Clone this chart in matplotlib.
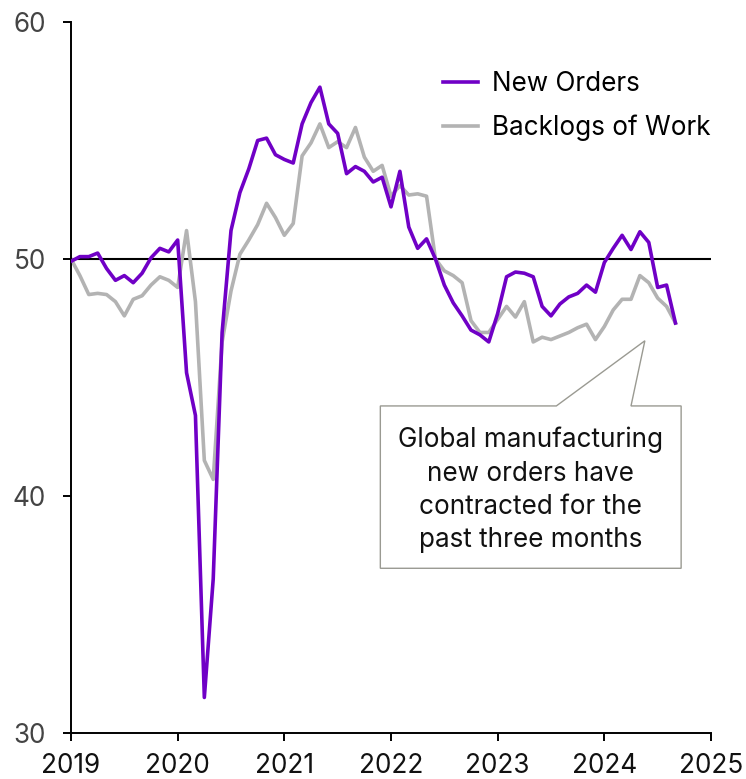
import matplotlib
matplotlib.use('Agg')
import matplotlib.pyplot as plt
import numpy as np
from matplotlib.patches import Polygon

plt.rcParams['font.family'] = ['Inter', 'DejaVu Sans']

# monthly PMI readings, Jan 2019 - Sep 2024
start_year = 2019
new_orders = [
    49.9, 50.1, 50.1, 50.25, 49.6, 49.1, 49.3, 49.0, 49.4, 50.05, 50.45, 50.3,
    50.8, 45.2, 43.4, 31.5, 36.5, 46.9, 51.2, 52.8, 53.8, 55.0, 55.1, 54.4,
    54.2, 54.05, 55.7, 56.6, 57.25, 55.7, 55.3, 53.6, 53.9, 53.7, 53.25, 53.45,
    52.2, 53.7, 51.35, 50.45, 50.85, 50.0, 48.9, 48.15, 47.6, 47.0, 46.8, 46.5,
    47.7, 49.25, 49.45, 49.4, 49.25, 48.0, 47.6, 48.1, 48.4, 48.55, 48.9, 48.6,
    49.85, 50.45, 51.0, 50.4, 51.15, 50.7, 48.8, 48.9, 47.3,
]
backlogs = [
    50.0, 49.3, 48.5, 48.55, 48.5, 48.2, 47.6, 48.3, 48.45, 48.9, 49.25, 49.1,
    48.8, 51.2, 48.2, 41.5, 40.7, 46.5, 48.65, 50.2, 50.8, 51.45, 52.35, 51.75,
    51.0, 51.5, 54.35, 54.9, 55.7, 54.7, 54.95, 54.7, 55.55, 54.3, 53.7, 53.95,
    52.65, 53.1, 52.7, 52.75, 52.65, 50.0, 49.5, 49.3, 49.0, 47.4, 46.9, 46.9,
    47.45, 48.0, 47.55, 48.2, 46.5, 46.7, 46.6, 46.75, 46.9, 47.1, 47.25, 46.6,
    47.15, 47.85, 48.3, 48.3, 49.3, 49.0, 48.35, 48.0, 47.3,
]
year_ticks = [2019, 2020, 2021, 2022, 2023, 2024, 2025]
y_ticks = [30, 40, 50, 60]
note = 'Global manufacturing\nnew orders have\ncontracted for the\npast three months'

fs = 18.8
x = start_year + np.arange(len(new_orders)) / 12

fig = plt.figure(figsize=(7.46, 7.79), dpi=100)
ax = fig.add_axes([71 / 746, 46 / 779, 640 / 746, 711 / 779])

ax.axhline(50, color='black', lw=1.5, zorder=1)
l2, = ax.plot(x, backlogs, color='#b3b3b3', lw=2.6, label='Backlogs of Work', zorder=2)
l1, = ax.plot(x, new_orders, color='#7000c6', lw=2.6, label='New Orders', zorder=3)

ax.set_xlim(2019, 2025)
ax.set_ylim(30, 60)
ax.set_xticks(year_ticks)
ax.set_yticks(y_ticks)
for s in ['top', 'right']:
    ax.spines[s].set_visible(False)
for s in ['left', 'bottom']:
    ax.spines[s].set_linewidth(1.4)
ax.tick_params(direction='out', length=6, width=1.4, labelsize=fs)
ax.tick_params(axis='x', pad=8.5, labelcolor='#111111')
ax.tick_params(axis='y', pad=12, labelcolor='#444444')

leg = ax.legend(handles=[l1, l2], loc='upper left', bbox_to_anchor=(443 / 746, 1 - 71 / 779),
                bbox_transform=fig.transFigure, frameon=False, fontsize=fs,
                handlelength=1.34, handletextpad=0.54, labelspacing=0.67,
                borderpad=0, borderaxespad=0)

# callout box with pointer towards the latest readings
bx0, bx1, by0, by1 = 2021.90, 2024.72, 36.95, 43.8
callout = Polygon([(bx0, by0), (bx0, by1), (2023.55, by1), (2024.38, 46.55),
                   (2024.25, by1), (bx1, by1), (bx1, by0)],
                  closed=True, facecolor='white', edgecolor='#9a9a92', lw=1.0, zorder=4)
ax.add_patch(callout)
ax.text((bx0 + bx1) / 2, 40.25, note, ha='center', va='center', fontsize=fs,
        linespacing=1.37, color='#111111', zorder=5)

fig.savefig('out.png', dpi=100)
